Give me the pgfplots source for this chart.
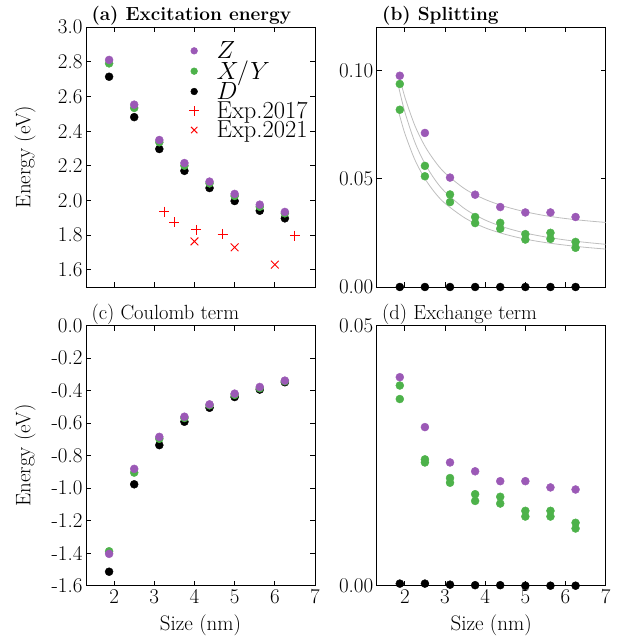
\documentclass[border=0pt]{standalone}
\usepackage{pgfplots}
\pgfplotsset{compat=1.18}
\definecolor{zpur}{RGB}{155,89,182}
\definecolor{xyg}{RGB}{77,178,74}
\definecolor{fitg}{RGB}{190,190,190}
\newcommand{\bigf}{\fontsize{21}{25}\selectfont}
\pgfplotsset{
  panel/.style={
    width=229pt, height=260pt, scale only axis,
    anchor=south west,
    xmin=1.3, xmax=7, xtick={2,...,7},
    tick align=inside, major tick length=5pt,
    axis line style={line width=0.8pt},
    every tick/.style={black, line width=0.8pt},
    tick label style={font=\bigf},
    label style={font=\bigf},
    /pgf/number format/assume math mode=true,
    scaled y ticks=false,
    clip=false,
    title style={at={(0,1)}, anchor=base west, xshift=2pt},
    ylabel style={at={(axis description cs:-0.266,0.5)}, anchor=center},
    xlabel style={at={(axis description cs:0.5,0)}, anchor=center, yshift=-40pt},
  },
  prec/.style={yticklabel style={/pgf/number format/fixed, /pgf/number format/fixed zerofill, /pgf/number format/precision=#1}},
  dotz/.style={only marks, mark=*, mark size=4pt, color=zpur},
  dotg/.style={only marks, mark=*, mark size=4pt, color=xyg},
  dotd/.style={only marks, mark=*, mark size=4pt, color=black},
  fit/.style={no marks, smooth, color=fitg, line width=0.8pt},
  expa/.style={only marks, mark=+, mark size=5pt, color=red, mark options={draw=red, line width=0.9pt}},
  expb/.style={only marks, mark=x, mark size=5.5pt, color=red, mark options={draw=red, line width=0.9pt}},
}
\begin{document}
\begin{tikzpicture}
% (a)
\begin{axis}[panel, at={(86pt,357pt)},
  ymin=1.5, ymax=3.0, ytick={1.6,1.8,...,3.0}, prec=1,
  xticklabels=\empty,
  ylabel={Energy (eV)},
  title={\fontsize{19}{22}\selectfont\bfseries (a) Excitation energy},
  legend style={draw=none, fill=none, at={(0.99,0.96)}, anchor=north east,
    font=\fontsize{24.5}{28}\selectfont, row sep=-3pt, column sep=15pt},
  legend cell align=left]
\addlegendimage{dotz, mark size=3.4pt}\addlegendentry{$Z$}
\addlegendimage{dotg, mark size=3.4pt}\addlegendentry{$X/Y$}
\addlegendimage{dotd, mark size=3.4pt}\addlegendentry{$D$}
\addlegendimage{legend image code/.code={\draw[red, line width=0.9pt] (0.3cm,-5pt) -- (0.3cm,5pt) (0.3cm,0pt) ++(-5pt,0pt) -- ++(10pt,0pt);}}\addlegendentry{Exp.2017}
\addlegendimage{expb, mark size=4.5pt}\addlegendentry{Exp.2021}
\addplot[dotd, forget plot] coordinates {(1.875,2.713)(2.5,2.48)(3.125,2.296)(3.75,2.17)(4.375,2.071)(5,1.996)(5.625,1.94)(6.25,1.896)};
\addplot[dotg, forget plot] coordinates {(1.875,2.79)(2.5,2.533)(3.125,2.335)(3.75,2.2)(4.375,2.098)(5,2.025)(5.625,1.963)(6.25,1.925)};
\addplot[dotz, forget plot] coordinates {(1.875,2.81)(2.5,2.552)(3.125,2.348)(3.75,2.215)(4.375,2.108)(5,2.037)(5.625,1.975)(6.25,1.933)};
\addplot[expa, forget plot] coordinates {(3.25,1.935)(3.5,1.873)(4.05,1.83)(4.7,1.806)(6.5,1.797)};
\addplot[expb, forget plot] coordinates {(4.0,1.763)(5.0,1.729)(6.0,1.629)};
\end{axis}
% (b)
\begin{axis}[panel, at={(376.7pt,357pt)},
  ymin=0, ymax=0.12, ytick={0,0.05,0.1}, prec=2,
  xticklabels=\empty,
  title={\fontsize{19}{22}\selectfont\bfseries (b) Splitting}]
\addplot[dotd] coordinates {(1.875,0)(2.5,0)(3.125,0)(3.75,0)(4.375,0)(5,0)(5.625,0)(6.25,0)};
\addplot[dotg] coordinates {(1.875,0.0937)(2.5,0.0559)(3.125,0.0427)(3.75,0.0323)(4.375,0.0296)(5,0.0244)(5.625,0.025)(6.25,0.0208)};
\addplot[dotg] coordinates {(1.875,0.0818)(2.5,0.0511)(3.125,0.0392)(3.75,0.0295)(4.375,0.0269)(5,0.0219)(5.625,0.0222)(6.25,0.0181)};
\addplot[dotz] coordinates {(1.875,0.0975)(2.5,0.0711)(3.125,0.0505)(3.75,0.0426)(4.375,0.0369)(5,0.0344)(5.625,0.0344)(6.25,0.0323)};
\addplot[fit] coordinates {(1.85,0.0983)(2.0,0.0877)(2.25,0.0745)(2.5,0.0650)(2.75,0.0580)(3.0,0.0526)(3.5,0.0452)(4.0,0.0404)(4.5,0.0371)(5.0,0.0347)(5.5,0.0329)(6.0,0.0316)(6.5,0.0306)(7.0,0.0298)};
\addplot[fit] coordinates {(1.85,0.0920)(2.0,0.0808)(2.25,0.0668)(2.5,0.0569)(2.75,0.0495)(3.0,0.0439)(3.5,0.0360)(4.0,0.0309)(4.5,0.0274)(5.0,0.0249)(5.5,0.0231)(6.0,0.0217)(6.5,0.0206)(7.0,0.0197)};
\addplot[fit] coordinates {(1.85,0.0806)(2.0,0.0709)(2.25,0.0587)(2.5,0.0500)(2.75,0.0435)(3.0,0.0386)(3.5,0.0318)(4.0,0.0273)(4.5,0.0243)(5.0,0.0221)(5.5,0.0205)(6.0,0.0193)(6.5,0.0183)(7.0,0.0175)};
\end{axis}
% (c)
\begin{axis}[panel, at={(86pt,58.3pt)},
  ymin=-1.6, ymax=0, ytick={-1.6,-1.4,...,0}, prec=1,
  xlabel={Size (nm)}, ylabel={Energy (eV)},
  title={\fontsize{20.5}{24}\selectfont (c) Coulomb term}]
\addplot[dotd] coordinates {(1.875,-1.514)(2.5,-0.976)(3.125,-0.735)(3.75,-0.591)(4.375,-0.505)(5,-0.439)(5.625,-0.393)(6.25,-0.348)};
\addplot[dotg] coordinates {(1.875,-1.388)(2.5,-0.904)(3.125,-0.696)(3.75,-0.568)(4.375,-0.49)(5,-0.426)(5.625,-0.385)(6.25,-0.342)};
\addplot[dotz] coordinates {(1.875,-1.404)(2.5,-0.881)(3.125,-0.684)(3.75,-0.56)(4.375,-0.484)(5,-0.418)(5.625,-0.377)(6.25,-0.338)};
\end{axis}
% (d)
\begin{axis}[panel, at={(376.7pt,58.3pt)},
  ymin=0, ymax=0.05, ytick={0,0.05}, prec=2,
  xlabel={Size (nm)},
  title={\fontsize{20.5}{24}\selectfont (d) Exchange term}]
\addplot[dotd] coordinates {(1.875,0.0004)(2.5,0.0004)(3.125,0.0002)(3.75,0.0001)(4.375,0.0001)(5,0)(5.625,0)(6.25,0)};
\addplot[dotg] coordinates {(1.875,0.0385)(2.5,0.0243)(3.125,0.0207)(3.75,0.0176)(4.375,0.0171)(5,0.0144)(5.625,0.0144)(6.25,0.0121)};
\addplot[dotg] coordinates {(1.875,0.0359)(2.5,0.0237)(3.125,0.0198)(3.75,0.0163)(4.375,0.0158)(5,0.0133)(5.625,0.0133)(6.25,0.011)};
\addplot[dotz] coordinates {(1.875,0.0401)(2.5,0.0305)(3.125,0.0237)(3.75,0.022)(4.375,0.0201)(5,0.0201)(5.625,0.0189)(6.25,0.0185)};
\end{axis}
\pgfresetboundingbox
\path[use as bounding box] (0pt,0pt) rectangle (622pt,644pt);
\end{tikzpicture}
\end{document}
